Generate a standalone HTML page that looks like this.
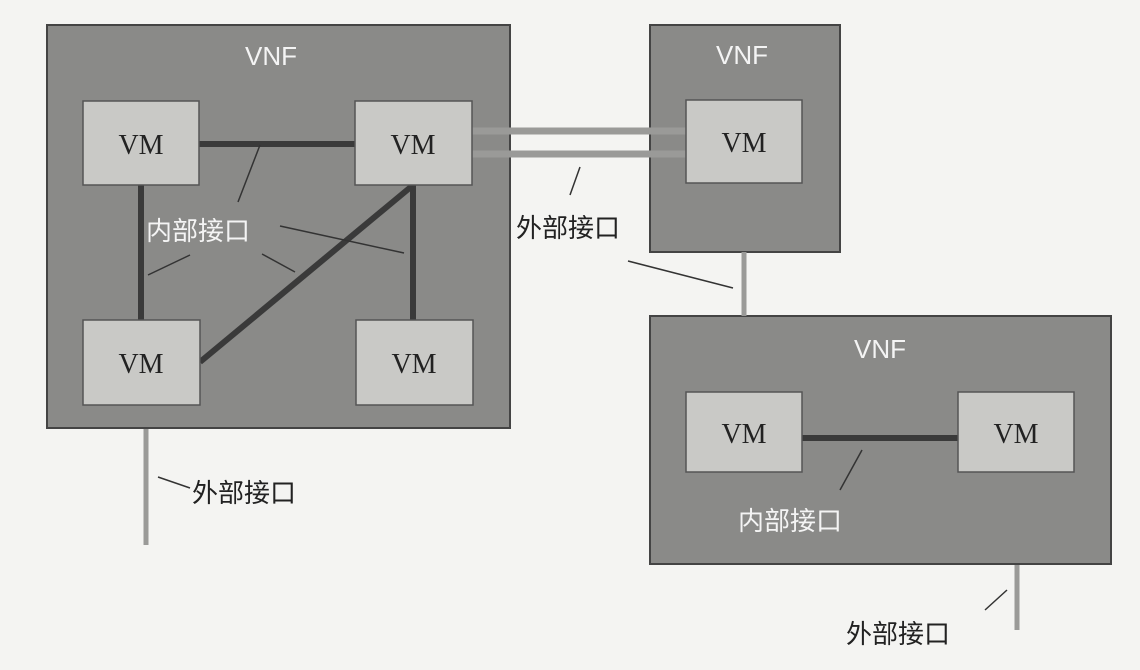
<!DOCTYPE html>
<html><head><meta charset="utf-8"><style>
body{margin:0;background:#f4f4f2;}
svg{display:block}
.vm{fill:#c9c9c6;stroke:#555;stroke-width:1.5}
.vnf{fill:#8a8a88;stroke:#444;stroke-width:2}
.t{font-family:"Liberation Serif",serif;font-size:28px;fill:#222}
.w{font-family:"Liberation Sans",sans-serif;font-size:26px;fill:#f4f4f4}
.c{font-family:"Liberation Sans","Noto Sans CJK SC",sans-serif;font-size:26px}
</style></head><body>
<svg width="1140" height="670" viewBox="0 0 1140 670">
<rect x="0" y="0" width="1140" height="670" fill="#f4f4f2"/>
<line x1="146" y1="428" x2="146" y2="545" stroke="#9a9a98" stroke-width="5"/>
<line x1="744" y1="183" x2="744" y2="392" stroke="#9a9a98" stroke-width="5"/>
<line x1="1017" y1="472" x2="1017" y2="630" stroke="#9a9a98" stroke-width="5"/>
<rect class="vnf" x="47" y="25" width="463" height="403"/>
<rect class="vnf" x="650" y="25" width="190" height="227"/>
<rect class="vnf" x="650" y="316" width="461" height="248"/>
<line x1="744" y1="252" x2="744" y2="316" stroke="#9a9a98" stroke-width="5"/>
<line x1="472" y1="131" x2="686" y2="131" stroke="#9a9a98" stroke-width="7"/>
<line x1="472" y1="154" x2="686" y2="154" stroke="#9a9a98" stroke-width="7"/>
<g stroke="#3a3a3a" stroke-width="6">
<line x1="199" y1="144" x2="355" y2="144"/>
<line x1="141" y1="185" x2="141" y2="320"/>
<line x1="413" y1="185" x2="413" y2="320"/>
<line x1="412" y1="186" x2="200" y2="362"/>
<line x1="802" y1="438" x2="958" y2="438"/>
</g>
<g stroke="#333" stroke-width="1.5">
<line x1="260" y1="145" x2="238" y2="202"/>
<line x1="280" y1="226" x2="404" y2="253"/>
<line x1="148" y1="275" x2="190" y2="255"/>
<line x1="262" y1="254" x2="295" y2="272"/>
<line x1="580" y1="167" x2="570" y2="195"/>
<line x1="628" y1="261" x2="733" y2="288"/>
<line x1="862" y1="450" x2="840" y2="490"/>
<line x1="158" y1="477" x2="190" y2="488"/>
<line x1="1007" y1="590" x2="985" y2="610"/>
</g>
<rect class="vm" x="83" y="101" width="116" height="84"/>
<rect class="vm" x="355" y="101" width="117" height="84"/>
<rect class="vm" x="83" y="320" width="117" height="85"/>
<rect class="vm" x="356" y="320" width="117" height="85"/>
<rect class="vm" x="686" y="100" width="116" height="83"/>
<rect class="vm" x="686" y="392" width="116" height="80"/>
<rect class="vm" x="958" y="392" width="116" height="80"/>
<g class="t" text-anchor="middle">
<text x="141" y="154">VM</text><text x="413" y="154">VM</text>
<text x="141" y="373">VM</text><text x="414" y="373">VM</text>
<text x="744" y="152">VM</text><text x="744" y="443">VM</text><text x="1016" y="443">VM</text>
</g>
<g class="w" text-anchor="middle">
<text x="271" y="65">VNF</text><text x="742" y="64">VNF</text><text x="880" y="358">VNF</text>
</g>
<text class="c" x="146" y="240" fill="#f4f4f4">内部接口</text>
<text class="c" x="738" y="530" fill="#f4f4f4">内部接口</text>
<text class="c" x="516" y="237" fill="#222">外部接口</text>
<text class="c" x="192" y="502" fill="#222">外部接口</text>
<text class="c" x="846" y="643" fill="#222">外部接口</text>
</svg>
</body></html>
